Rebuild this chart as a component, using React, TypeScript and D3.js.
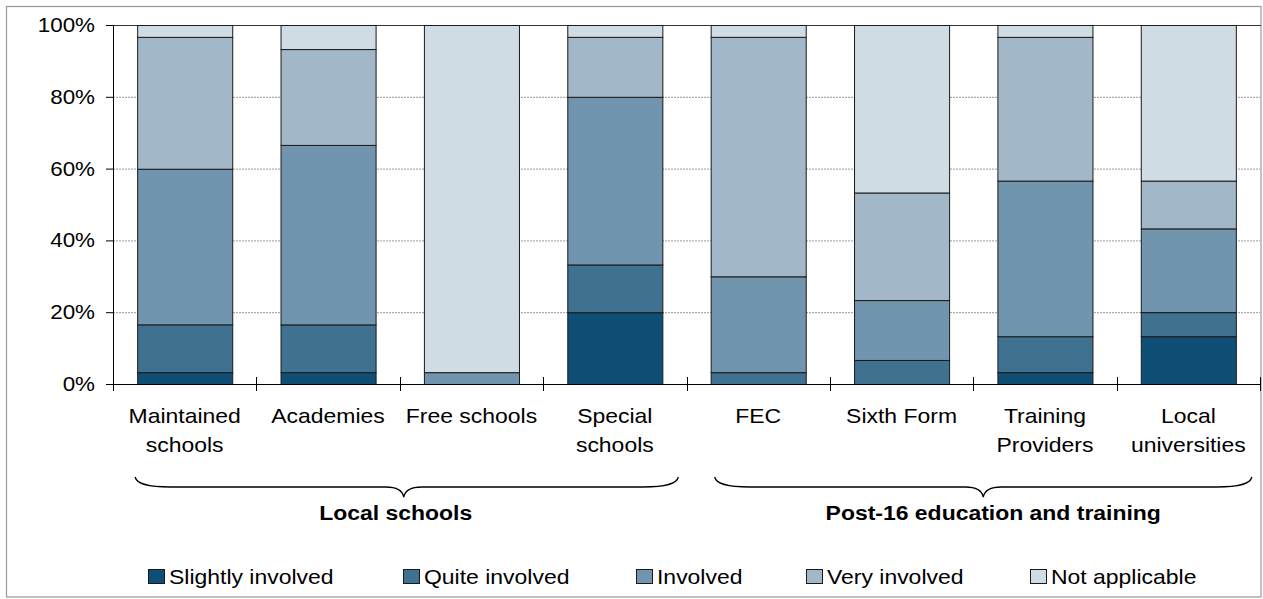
import React from "react";
import * as d3 from "d3";

const categories = [
  "Maintained schools",
  "Academies",
  "Free schools",
  "Special schools",
  "FEC",
  "Sixth Form",
  "Training Providers",
  "Local universities",
];
const categoryLines = [
  ["Maintained", "schools"],
  ["Academies"],
  ["Free schools"],
  ["Special", "schools"],
  ["FEC"],
  ["Sixth Form"],
  ["Training", "Providers"],
  ["Local", "universities"],
];
const seriesNames = ["Slightly involved", "Quite involved", "Involved", "Very involved", "Not applicable"];
const slightly = [3.3, 3.3, 0, 20, 0, 0, 3.3, 13.3];
const quite = [13.3, 13.3, 0, 13.3, 3.3, 6.7, 10, 6.7];
const involved = [43.3, 50, 3.3, 46.7, 26.7, 16.7, 43.3, 23.3];
const very = [36.7, 26.7, 0, 16.7, 66.7, 30, 40, 13.3];
const notApplicable = [3.3, 6.7, 96.7, 3.3, 3.3, 46.7, 3.3, 43.3];
const yTicks = [0, 20, 40, 60, 80, 100];
const groupLabels = ["Local schools", "Post-16 education and training"];
const groupFrom = [0, 4];
const groupTo = [3, 7];
const colors = ["#104f75", "#3f7191", "#7195ae", "#a2b8c8", "#d0dce4"];

// layout tweaks (not data)
const braceLayout = [
  { dl: -2, dr: 16, dtip: -3, dlabel: -8 },
  { dl: 4, dr: 16, dtip: 0, dlabel: 10 },
];

const FONT = "'Liberation Sans', Arial, Helvetica, sans-serif";
const SX = 1.12;

function T({ x, y, children, anchor = "start", size = 20.5, weight = "normal" }: any) {
  return (
    <text
      transform={`translate(${x},${y}) scale(${SX},1)`}
      textAnchor={anchor}
      fontSize={size}
      fontWeight={weight}
      fontFamily={FONT}
      fill="#000"
    >
      {children}
    </text>
  );
}

export default function App() {
  const left = 113, right = 1260, top = 25, bottom = 384;
  const rows = categories.map((c, i) => ({
    cat: c,
    s0: slightly[i],
    s1: quite[i],
    s2: involved[i],
    s3: very[i],
    s4: notApplicable[i],
  }));
  const keys = ["s0", "s1", "s2", "s3", "s4"];
  const stack = d3.stack<any>().keys(keys).offset(d3.stackOffsetExpand);
  const stacked = stack(rows);

  const x = d3.scaleBand<string>().domain(categories).range([left, right]).paddingInner(0.337).paddingOuter(0.1685);
  const y = d3.scaleLinear().domain([0, 1]).range([bottom, top]);
  const yp = d3.scaleLinear().domain([0, 100]).range([bottom, top]);
  const step = x.step();
  const bw = x.bandwidth();

  const legendX = [148, 403, 636, 806, 1030];

  const brace = (x1: number, x2: number, tip: number) => {
    const y0 = 477, y1 = 487, y2 = 497;
    return `M${x1},${y0} Q${x1 + 2},${y1} ${x1 + 35},${y1} L${tip - 18},${y1} Q${tip - 2},${y1} ${tip},${y2} Q${tip + 2},${y1} ${tip + 18},${y1} L${x2 - 35},${y1} Q${x2 - 2},${y1} ${x2},${y0}`;
  };

  return (
    <svg
      width={1263}
      height={599}
      style={{ position: "absolute", left: 0, top: 0, background: "#fff" }}
    >
      <rect x={6.5} y={6.5} width={1254.5} height={590.5} fill="#fff" stroke="#999" strokeWidth={1.2} />
      {/* gridlines */}
      {yTicks.filter((t) => t > 0 && t < 100).map((t) => (
        <line key={t} x1={left} x2={right} y1={yp(t) + 0.5} y2={yp(t) + 0.5} stroke="#999" strokeWidth={1} strokeDasharray="2,1" />
      ))}
      <line x1={left} x2={right + 1} y1={top + 0.5} y2={top + 0.5} stroke="#333" strokeWidth={1} />
      {/* bars */}
      {stacked.map((layer, li) =>
        layer.map((d: any, i: number) => {
          const h = y(d[0]) - y(d[1]);
          if (h <= 0.01) return null;
          return (
            <rect
              key={`${li}-${i}`}
              x={(x(categories[i]) as number) + 0.5}
              y={y(d[1]) + 0.5}
              width={bw}
              height={h}
              fill={colors[li]}
              stroke="#1a1a1a"
              strokeWidth={1}
            />
          );
        })
      )}
      {/* y axis */}
      <line x1={left + 0.5} x2={left + 0.5} y1={top} y2={bottom + 7} stroke="#000" strokeWidth={1} />
      {yTicks.map((t) => (
        <g key={t}>
          <line x1={left - 7} x2={left} y1={yp(t) + 0.5} y2={yp(t) + 0.5} stroke="#000" strokeWidth={1} />
          <T x={left - 18} y={yp(t) + 7} anchor="end" size={20}>{`${t}%`}</T>
        </g>
      ))}
      {/* x axis */}
      <line x1={left} x2={right + 1} y1={bottom + 0.5} y2={bottom + 0.5} stroke="#000" strokeWidth={1} />
      {d3.range(categories.length + 1).map((k) => {
        const xx = Math.round(left + k * step) + 0.5;
        return <line key={k} x1={xx} x2={xx} y1={bottom - 7} y2={bottom + 7} stroke="#000" strokeWidth={1} />;
      })}
      {categories.map((c, i) => {
        const cx = (x(c) as number) + bw / 2;
        return categoryLines[i].map((ln, j) => (
          <T key={`${c}-${j}`} x={cx} y={423 + j * 28.5} anchor="middle">{ln}</T>
        ));
      })}
      {/* group braces */}
      {groupLabels.map((label, gi) => {
        const L = braceLayout[gi];
        const x1 = (x(categories[groupFrom[gi]]) as number) + L.dl;
        const x2 = (x(categories[groupTo[gi]]) as number) + bw + L.dr;
        const tip = (x1 + x2) / 2 + L.dtip;
        return (
          <g key={label}>
            <path d={brace(x1, x2, tip)} fill="none" stroke="#000" strokeWidth={1.3} />
            <T x={tip + L.dlabel} y={520} anchor="middle" weight="bold">{label}</T>
          </g>
        );
      })}
      {/* legend */}
      {seriesNames.map((s, i) => (
        <g key={s}>
          <rect x={legendX[i] + 0.5} y={569.5} width={16} height={14} fill={colors[i]} stroke="#1a1a1a" strokeWidth={1} />
          <T x={legendX[i] + 21} y={584}>{s}</T>
        </g>
      ))}
    </svg>
  );
}
